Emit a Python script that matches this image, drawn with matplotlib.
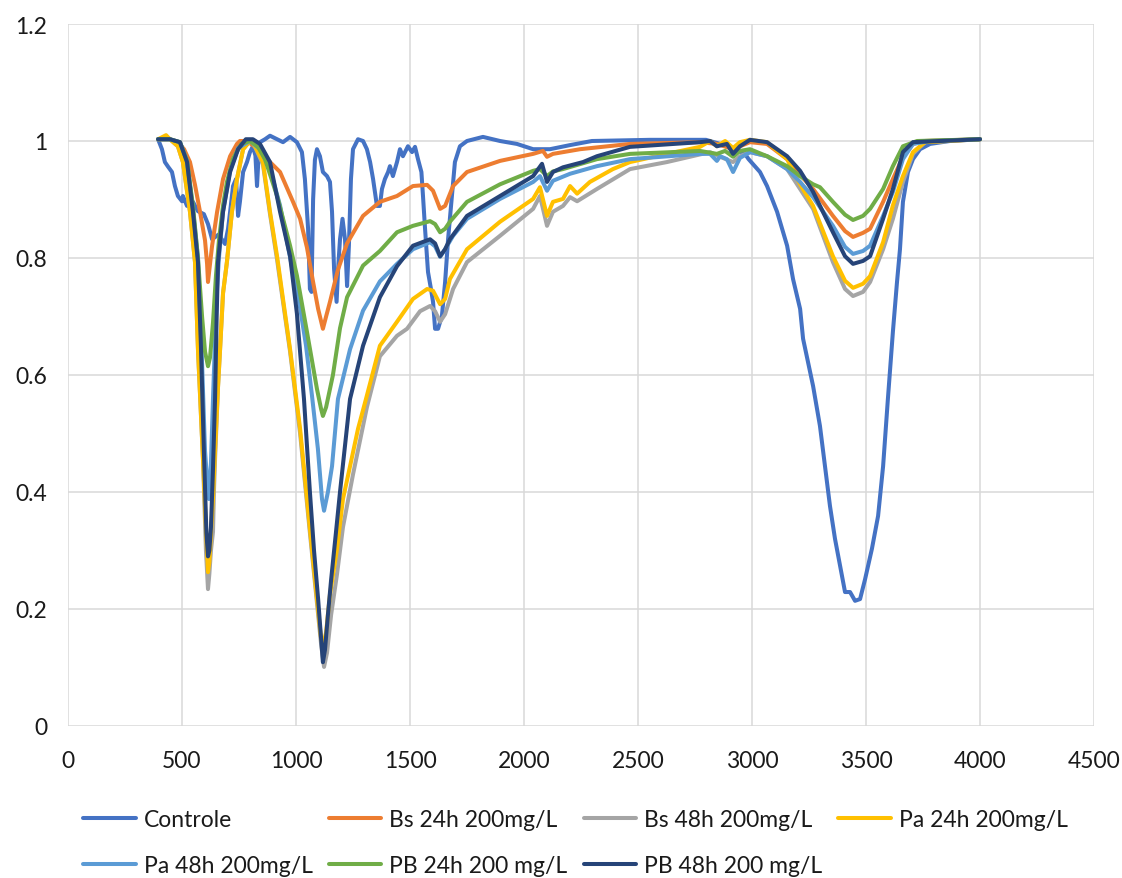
import matplotlib
matplotlib.use("Agg")
import matplotlib.pyplot as plt

# FTIR spectra: (wavenumber cm-1, normalised transmittance)
controle = [
    (395, 1.003), (412, 0.986), (425, 0.964), (439, 0.956), (456, 0.947), (469, 0.923),
    (482, 0.906), (500, 0.897), (504, 0.906), (522, 0.889), (548, 0.896), (570, 0.880),
    (596, 0.875), (614, 0.858), (632, 0.832), (660, 0.840), (689, 0.824), (702, 0.850),
    (711, 0.879), (724, 0.923), (737, 0.935), (746, 0.872), (754, 0.896), (768, 0.947),
    (785, 0.964), (798, 0.981), (811, 0.991), (822, 0.975), (829, 0.923), (836, 0.975),
    (842, 0.998), (864, 1.003), (886, 1.009), (917, 1.003), (943, 0.998), (974, 1.007),
    (1004, 0.998), (1026, 0.981), (1039, 0.935), (1053, 0.850), (1061, 0.747), (1068, 0.742),
    (1075, 0.900), (1083, 0.968), (1092, 0.986), (1105, 0.974), (1118, 0.947), (1136, 0.940),
    (1149, 0.930), (1158, 0.879), (1167, 0.781), (1178, 0.725), (1186, 0.790), (1193, 0.832),
    (1204, 0.867), (1215, 0.832), (1224, 0.752), (1232, 0.821), (1241, 0.935), (1250, 0.986),
    (1272, 1.003), (1294, 1.000), (1311, 0.986), (1325, 0.964), (1338, 0.935), (1355, 0.889),
    (1368, 0.889), (1377, 0.918), (1390, 0.935), (1404, 0.947), (1412, 0.957), (1425, 0.940),
    (1443, 0.964), (1456, 0.986), (1469, 0.974), (1491, 0.991), (1509, 0.981), (1522, 0.990),
    (1535, 0.969), (1550, 0.947), (1557, 0.906), (1566, 0.850), (1579, 0.776), (1592, 0.747),
    (1601, 0.725), (1610, 0.679), (1623, 0.679), (1640, 0.701), (1654, 0.759), (1667, 0.832),
    (1684, 0.906), (1697, 0.964), (1719, 0.991), (1750, 1.000), (1820, 1.007), (1895, 1.000),
    (1969, 0.995), (2040, 0.986), (2114, 0.986), (2202, 0.993), (2298, 1.000), (2553, 1.002),
    (2798, 1.002), (2860, 0.995), (2925, 0.986), (2969, 0.978), (2985, 0.969), (3035, 0.947),
    (3066, 0.923), (3110, 0.879), (3154, 0.821), (3180, 0.764), (3211, 0.713), (3224, 0.662),
    (3268, 0.581), (3298, 0.513), (3320, 0.444), (3342, 0.376), (3364, 0.320), (3386, 0.274),
    (3408, 0.229), (3430, 0.229), (3452, 0.214), (3474, 0.217), (3496, 0.251), (3526, 0.303),
    (3553, 0.359), (3575, 0.444), (3596, 0.559), (3618, 0.674), (3636, 0.759), (3649, 0.815),
    (3662, 0.896), (3684, 0.947), (3706, 0.969), (3737, 0.986), (3781, 0.995), (3868, 1.000),
    (4000, 1.003),
]

bs_24h = [
    (395, 1.003), (447, 1.003), (482, 0.998), (509, 0.986), (535, 0.964), (557, 0.925),
    (579, 0.879), (601, 0.830), (610, 0.790), (614, 0.759), (620, 0.780), (632, 0.821),
    (654, 0.879), (680, 0.935), (711, 0.974), (741, 0.995), (754, 1.000), (785, 1.000),
    (820, 0.990), (873, 0.969), (930, 0.947), (987, 0.896), (1018, 0.867), (1048, 0.818),
    (1075, 0.759), (1097, 0.713), (1118, 0.679), (1132, 0.700), (1149, 0.725), (1184, 0.780),
    (1224, 0.825), (1294, 0.872), (1368, 0.896), (1443, 0.906), (1513, 0.923), (1575, 0.925),
    (1601, 0.915), (1632, 0.884), (1654, 0.889), (1689, 0.923), (1750, 0.947), (1895, 0.966),
    (2040, 0.978), (2083, 0.983), (2101, 0.973), (2127, 0.978), (2246, 0.986), (2465, 0.995),
    (2772, 0.998), (2846, 0.995), (2917, 0.986), (2991, 0.998), (3066, 0.995), (3154, 0.969),
    (3211, 0.942), (3268, 0.918), (3355, 0.872), (3408, 0.846), (3443, 0.836), (3487, 0.843),
    (3518, 0.850), (3575, 0.896), (3618, 0.935), (3662, 0.973), (3706, 0.995), (3759, 1.000),
    (4000, 1.003),
]

bs_48h = [
    (395, 1.003), (447, 1.003), (482, 0.991), (504, 0.964), (535, 0.879), (557, 0.793),
    (570, 0.644), (592, 0.456), (605, 0.300), (614, 0.234), (620, 0.260), (627, 0.300),
    (636, 0.332), (640, 0.400), (645, 0.456), (658, 0.580), (667, 0.644), (680, 0.740),
    (697, 0.793), (719, 0.879), (741, 0.935), (768, 0.986), (798, 1.000), (811, 0.998),
    (855, 0.960), (886, 0.875), (917, 0.797), (943, 0.725), (974, 0.640), (1018, 0.500),
    (1061, 0.330), (1092, 0.210), (1110, 0.140), (1123, 0.101), (1136, 0.125), (1154, 0.190),
    (1180, 0.260), (1206, 0.340), (1250, 0.430), (1311, 0.545), (1368, 0.632), (1443, 0.667),
    (1487, 0.679), (1544, 0.709), (1588, 0.718), (1610, 0.709), (1632, 0.691), (1654, 0.704),
    (1689, 0.747), (1750, 0.793), (1895, 0.838), (2040, 0.884), (2070, 0.906), (2101, 0.855),
    (2127, 0.879), (2171, 0.889), (2202, 0.904), (2233, 0.897), (2320, 0.918), (2465, 0.952),
    (2627, 0.964), (2816, 0.981), (2860, 0.973), (2917, 0.964), (2947, 0.974), (2991, 0.981),
    (3066, 0.974), (3154, 0.952), (3211, 0.918), (3268, 0.884), (3355, 0.793), (3408, 0.747),
    (3443, 0.735), (3487, 0.742), (3518, 0.759), (3575, 0.815), (3618, 0.867), (3662, 0.930),
    (3706, 0.978), (3759, 0.998), (4000, 1.003),
]

pa_24h = [
    (395, 1.003), (430, 1.010), (447, 1.003), (482, 0.991), (504, 0.964), (535, 0.879),
    (557, 0.793), (570, 0.644), (592, 0.456), (607, 0.320), (614, 0.263), (620, 0.280),
    (627, 0.330), (636, 0.390), (645, 0.470), (658, 0.580), (667, 0.644), (680, 0.740),
    (697, 0.793), (719, 0.879), (741, 0.935), (768, 0.986), (798, 1.000), (811, 0.998),
    (855, 0.964), (886, 0.879), (917, 0.803), (943, 0.730), (974, 0.644), (1018, 0.508),
    (1061, 0.337), (1092, 0.217), (1110, 0.149), (1118, 0.137), (1132, 0.160), (1149, 0.225),
    (1180, 0.303), (1206, 0.388), (1237, 0.444), (1272, 0.508), (1311, 0.565), (1368, 0.650),
    (1443, 0.691), (1513, 0.730), (1575, 0.747), (1601, 0.744), (1632, 0.721), (1654, 0.730),
    (1675, 0.764), (1750, 0.815), (1895, 0.862), (2040, 0.901), (2070, 0.921), (2101, 0.872),
    (2127, 0.896), (2171, 0.901), (2202, 0.923), (2233, 0.910), (2289, 0.930), (2390, 0.952),
    (2465, 0.964), (2627, 0.978), (2772, 0.990), (2816, 1.000), (2846, 0.991), (2882, 1.000),
    (2917, 0.988), (2947, 0.998), (2991, 1.002), (3066, 0.998), (3154, 0.969), (3211, 0.926),
    (3268, 0.889), (3355, 0.803), (3408, 0.761), (3443, 0.749), (3487, 0.756), (3518, 0.769),
    (3575, 0.827), (3618, 0.890), (3662, 0.940), (3706, 0.981), (3759, 0.998), (4000, 1.003),
]

pa_48h = [
    (395, 1.003), (447, 1.003), (491, 0.998), (522, 0.966), (548, 0.884), (570, 0.800),
    (588, 0.620), (601, 0.470), (614, 0.400), (618, 0.388), (627, 0.450), (636, 0.560),
    (645, 0.660), (654, 0.750), (662, 0.800), (680, 0.880), (711, 0.950), (746, 0.988),
    (798, 1.000), (842, 0.986), (886, 0.952), (930, 0.890), (987, 0.775), (1018, 0.715),
    (1044, 0.650), (1070, 0.565), (1096, 0.474), (1114, 0.388), (1123, 0.368), (1140, 0.400),
    (1158, 0.444), (1184, 0.559), (1237, 0.644), (1294, 0.710), (1368, 0.760), (1443, 0.790),
    (1513, 0.815), (1588, 0.827), (1610, 0.820), (1632, 0.802), (1654, 0.815), (1689, 0.838),
    (1750, 0.867), (1895, 0.901), (2040, 0.930), (2070, 0.940), (2101, 0.915), (2127, 0.932),
    (2202, 0.944), (2320, 0.957), (2465, 0.969), (2772, 0.978), (2816, 0.978), (2846, 0.966),
    (2860, 0.974), (2890, 0.969), (2917, 0.947), (2947, 0.971), (2991, 0.981), (3066, 0.974),
    (3154, 0.952), (3211, 0.930), (3268, 0.904), (3355, 0.855), (3408, 0.819), (3443, 0.807),
    (3487, 0.812), (3518, 0.821), (3575, 0.872), (3618, 0.913), (3662, 0.969), (3706, 0.995),
    (3781, 1.000), (4000, 1.003),
]

pb_24h = [
    (395, 1.003), (447, 1.003), (491, 0.998), (522, 0.966), (548, 0.889), (570, 0.800),
    (588, 0.700), (601, 0.640), (614, 0.615), (623, 0.630), (636, 0.690), (649, 0.770),
    (662, 0.830), (680, 0.890), (697, 0.930), (724, 0.970), (760, 0.995), (798, 1.000),
    (833, 0.990), (864, 0.969), (917, 0.906), (974, 0.821), (1004, 0.770), (1048, 0.674),
    (1092, 0.576), (1110, 0.542), (1118, 0.530), (1132, 0.545), (1162, 0.600), (1193, 0.680),
    (1224, 0.733), (1294, 0.787), (1368, 0.812), (1443, 0.844), (1513, 0.855), (1588, 0.863),
    (1610, 0.858), (1632, 0.844), (1654, 0.850), (1675, 0.862), (1750, 0.896), (1895, 0.926),
    (2040, 0.949), (2070, 0.952), (2101, 0.940), (2127, 0.948), (2171, 0.952), (2320, 0.969),
    (2465, 0.978), (2772, 0.983), (2846, 0.978), (2882, 0.983), (2917, 0.973), (2947, 0.983),
    (2991, 0.986), (3066, 0.974), (3154, 0.957), (3211, 0.940), (3268, 0.926), (3298, 0.921),
    (3355, 0.896), (3408, 0.874), (3443, 0.865), (3487, 0.872), (3518, 0.884), (3575, 0.918),
    (3618, 0.957), (3662, 0.991), (3724, 1.000), (4000, 1.003),
]

pb_48h = [
    (395, 1.003), (447, 1.003), (491, 0.998), (522, 0.964), (548, 0.879), (570, 0.793),
    (583, 0.650), (596, 0.470), (607, 0.330), (614, 0.290), (620, 0.300), (627, 0.340),
    (636, 0.440), (645, 0.560), (652, 0.700), (658, 0.793), (680, 0.879), (711, 0.947),
    (746, 0.986), (780, 1.003), (811, 1.003), (842, 0.995), (886, 0.964), (930, 0.879),
    (974, 0.803), (1004, 0.705), (1035, 0.559), (1061, 0.400), (1079, 0.300), (1097, 0.217),
    (1110, 0.150), (1118, 0.109), (1127, 0.130), (1140, 0.190), (1154, 0.250), (1175, 0.330),
    (1193, 0.400), (1237, 0.559), (1294, 0.650), (1368, 0.733), (1443, 0.786), (1513, 0.821),
    (1588, 0.832), (1610, 0.825), (1632, 0.803), (1654, 0.815), (1675, 0.832), (1750, 0.872),
    (1895, 0.906), (2040, 0.940), (2079, 0.961), (2101, 0.930), (2127, 0.947), (2171, 0.955),
    (2259, 0.964), (2320, 0.974), (2465, 0.990), (2772, 0.998), (2816, 1.000), (2846, 0.991),
    (2890, 0.995), (2917, 0.978), (2947, 0.991), (2991, 1.002), (3066, 0.998), (3154, 0.974),
    (3211, 0.949), (3268, 0.913), (3355, 0.844), (3408, 0.803), (3443, 0.790), (3487, 0.795),
    (3518, 0.803), (3575, 0.867), (3618, 0.918), (3662, 0.981), (3706, 0.998), (4000, 1.003),
]

labels = ["Controle", "Bs 24h 200mg/L", "Bs 48h 200mg/L", "Pa 24h 200mg/L",
          "Pa 48h 200mg/L", "PB 24h 200 mg/L", "PB 48h 200 mg/L"]
colors = ["#4472C4", "#ED7D31", "#A5A5A5", "#FFC000", "#5B9BD5", "#70AD47", "#264478"]
spectra = [controle, bs_24h, bs_48h, pa_24h, pa_48h, pb_24h, pb_48h]

x_ticks = list(range(0, 4501, 500))
y_ticks = [0, 0.2, 0.4, 0.6, 0.8, 1.0, 1.2]
y_tick_labels = ["0", "0.2", "0.4", "0.6", "0.8", "1", "1.2"]

plt.rcParams["font.family"] = ["Lato", "DejaVu Sans"]

W, H = 1122, 879
fig = plt.figure(figsize=(W / 100, H / 100), dpi=100)
ax = fig.add_axes([68 / W, 152 / H, 1026 / W, 702 / H])

for pts, label, color in zip(spectra, labels, colors):
    xs = [p[0] for p in pts]
    ys = [p[1] for p in pts]
    ax.plot(xs, ys, color=color, lw=2.9, label=label,
            solid_joinstyle="round", solid_capstyle="round")

ax.set_xlim(0, 4500)
ax.set_ylim(0, 1.2)
ax.set_xticks(x_ticks)
ax.set_xticklabels([str(t) for t in x_ticks])
ax.set_yticks(y_ticks)
ax.set_yticklabels(y_tick_labels)
ax.grid(True, color="#D9D9D9", lw=1.1)
ax.set_axisbelow(True)
for side in ax.spines.values():
    side.set_visible(False)
ax.tick_params(axis="both", length=0, labelsize=16.5, colors="#1a1a1a")
ax.tick_params(axis="x", pad=17)
ax.tick_params(axis="y", pad=15)

# legend entries run row-wise in four columns
order = [0, 4, 1, 5, 2, 6, 3]
handles, names = ax.get_legend_handles_labels()
fig.legend([handles[i] for i in order], [names[i] for i in order],
           ncol=4, loc="upper left", bbox_to_anchor=(83 / W, 1 - 810 / H),
           frameon=False, fontsize=16.5, handlelength=2.3, handletextpad=0.35,
           columnspacing=0.7, labelspacing=1.11, borderpad=0, borderaxespad=0,
           labelcolor="#1a1a1a")

fig.savefig("out.png", dpi=100)
